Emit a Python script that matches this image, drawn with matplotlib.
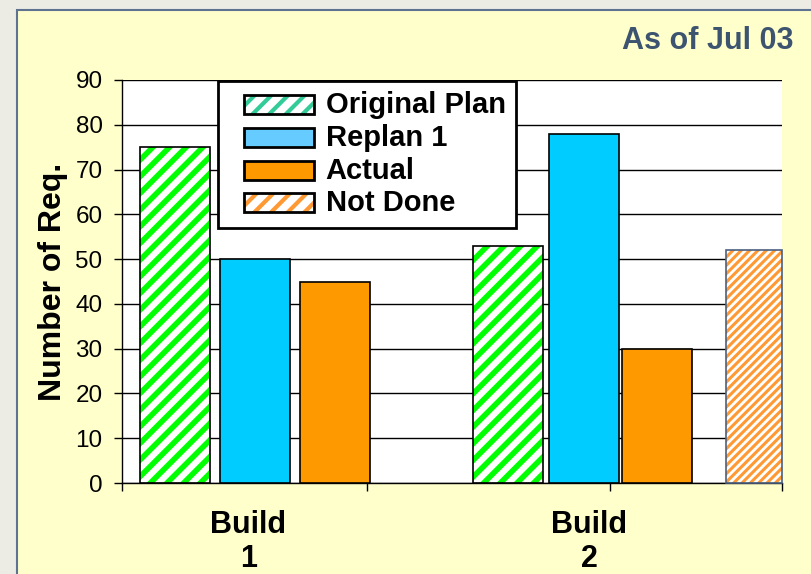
import matplotlib.pyplot as plt
from matplotlib.patches import Patch, Rectangle

builds = ['Build\n1', 'Build\n2']
original_plan = [75, 53]
replan_1 = [50, 78]
actual = [45, 30]
not_done = [52]          # only reported for Build 2

NARROW = ['Liberation Sans Narrow', 'Liberation Sans', 'DejaVu Sans']
plt.rcParams['font.family'] = ['Liberation Sans', 'DejaVu Sans']

GREEN = '#00FF00'
BLUE = '#00CCFF'
ORANGE = '#FF9900'
HATCH_ORANGE = '#FF9933'
SLATE = '#3D5470'

# layout (x axis in units of 80 px)
bar_w = 0.875
pos_orig = [0.66, 4.83]
pos_replan = [1.66, 5.78]
pos_actual = [2.66, 6.69]
pos_notdone = [7.9]
notdone_w = 0.7
label_x = [1.58, 5.84]

fig = plt.figure(figsize=(8.11, 5.74), dpi=100)
fig.patch.set_facecolor('#ECECE5')
fig.add_artist(Rectangle((17 / 811, -0.05), 1.0, 1 - 10 / 574 + 0.05,
                         transform=fig.transFigure, facecolor='#FFFFCC',
                         edgecolor='#5D7390', linewidth=1.5, zorder=-10))

ax = fig.add_axes([122 / 811, 91 / 574, 660 / 811, 403 / 574])
ax.set_facecolor('white')


def set_hlw(p, hlw):
    if hasattr(p, 'set_hatch_linewidth'):
        p.set_hatch_linewidth(hlw)


def hatched(x, h, w, color, hatch, hlw, edge='black'):
    with plt.rc_context({'hatch.linewidth': hlw}):
        b = ax.bar(x, h, w, align='center', facecolor='white', edgecolor=color,
                   hatch=hatch, linewidth=0, zorder=2)
    for p in b:
        set_hlw(p, hlw)
    ax.bar(x, h, w, align='center', fill=False, edgecolor=edge, linewidth=1.2,
           zorder=3, clip_on=False)


hatched(pos_orig, original_plan, bar_w, GREEN, '//', 4.0)
ax.bar(pos_replan, replan_1, bar_w, color=BLUE, edgecolor='black', linewidth=1.2, zorder=3)
ax.bar(pos_actual, actual, bar_w, color=ORANGE, edgecolor='black', linewidth=1.2, zorder=3)
hatched(pos_notdone, not_done, notdone_w, HATCH_ORANGE, '////', 2.2, edge='#4A6080')

ax.set_xlim(0, 8.25)
ax.set_ylim(0, 90)
ax.set_yticks(range(0, 91, 10))
ax.set_xticks([0, 3.06, 6.1, 8.25])
ax.set_xticklabels([])
ax.tick_params(axis='both', direction='out', length=6, width=1, color='black')
ax.tick_params(axis='y', pad=8)
for t in ax.get_yticklabels():
    t.set_family(NARROW)
    t.set_fontsize(17.5)
ax.grid(axis='y', color='black', linewidth=1, zorder=0)
ax.set_axisbelow(True)
for s in ['top', 'right']:
    ax.spines[s].set_visible(False)
ax.spines['left'].set_linewidth(1)
ax.spines['bottom'].set_linewidth(1)

for x, lab in zip(label_x, builds):
    ax.text(x, -6, lab, ha='center', va='top', fontsize=22, fontweight='bold',
            family=NARROW, linespacing=1.2)

ax.set_ylabel('Number of Req.', fontsize=23, fontweight='bold', labelpad=5)

fig.text(793 / 811, 1 - 41 / 574, 'As of Jul 03', ha='right', va='center',
         fontsize=22, fontweight='bold', color=SLATE, family=NARROW)


class BoxHandler:
    """Legend key drawn as a box, shifted right inside the handle area."""

    def legend_artist(self, legend, orig_handle, fontsize, handlebox):
        x0, y0 = handlebox.xdescent, handlebox.ydescent
        w, h = handlebox.width, handlebox.height
        shift = 0.19 * w
        hatch = orig_handle.get_hatch()
        if hatch:
            hlw = getattr(orig_handle, '_leg_hlw', 3.0)
            with plt.rc_context({'hatch.linewidth': hlw}):
                inner = Rectangle((x0 + shift, y0), w - shift, h, facecolor='white',
                                  edgecolor=orig_handle.get_edgecolor(), hatch=hatch,
                                  linewidth=0, transform=handlebox.get_transform())
            set_hlw(inner, hlw)
            handlebox.add_artist(inner)
            outline = Rectangle((x0 + shift, y0), w - shift, h, fill=False,
                                edgecolor='black', linewidth=2,
                                transform=handlebox.get_transform())
        else:
            outline = Rectangle((x0 + shift, y0), w - shift, h,
                                facecolor=orig_handle.get_facecolor(),
                                edgecolor='black', linewidth=2,
                                transform=handlebox.get_transform())
        handlebox.add_artist(outline)
        return outline


h_orig = Patch(facecolor='white', edgecolor='#33CC99', hatch='//')
h_orig._leg_hlw = 3.0
h_nd = Patch(facecolor='white', edgecolor=HATCH_ORANGE, hatch='//')
h_nd._leg_hlw = 3.0
handles = [h_orig,
           Patch(facecolor='#66CCFF', edgecolor='black'),
           Patch(facecolor=ORANGE, edgecolor='black'),
           h_nd]
labels = ['Original Plan', 'Replan 1', 'Actual', 'Not Done']
leg = ax.legend(handles, labels, loc='upper left', bbox_to_anchor=(0.145, 0.997),
                borderaxespad=0, fancybox=False, framealpha=1, edgecolor='black',
                prop={'weight': 'bold', 'size': 21}, handlelength=2.95,
                handleheight=0.62, labelspacing=0.16, handletextpad=0.4,
                borderpad=0.35, handler_map={Patch: BoxHandler()})
leg.get_frame().set_linewidth(2)
leg.set_zorder(5)

fig.savefig('out.png', dpi=100, facecolor=fig.get_facecolor())
